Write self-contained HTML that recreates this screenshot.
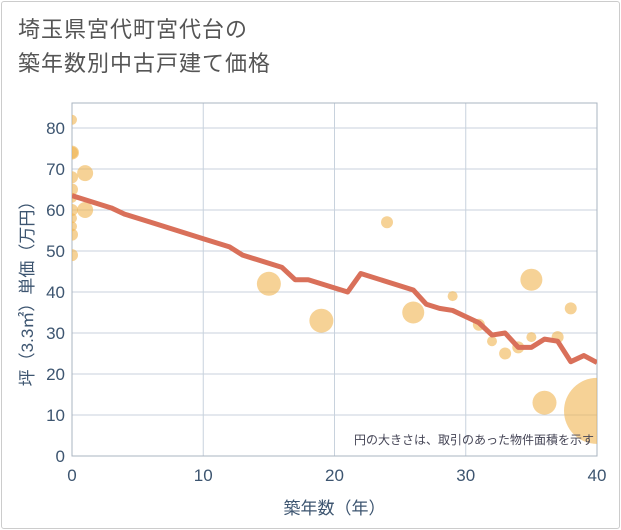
<!DOCTYPE html>
<html><head><meta charset="utf-8"><style>
html,body{margin:0;padding:0;background:#fff}
body{width:621px;height:530px;overflow:hidden;font-family:"Liberation Sans","Noto Sans CJK JP",sans-serif}
#frame{position:absolute;left:1px;top:1px;width:617px;height:526px;border:1px solid #ccc;border-radius:3px}
#title{position:absolute;left:18px;top:13px;font-size:22px;line-height:34px;color:#555;letter-spacing:1px}
</style></head><body>
<div id="frame"></div>
<div id="title">埼玉県宮代町宮代台の<br>築年数別中古戸建て価格</div>
<svg id="chart" width="621" height="530" style="position:absolute;left:0;top:0"></svg>
<script>
const xTicks=[0,10,20,30,40];
const yTicks=[0,10,20,30,40,50,60,70,80];
const lineX=[0,1,2,3,4,6,8,10,12,13,16,17,18,21,22,26,27,28,29,30,31,32,33,34,35,36,37,38,39,40];
const lineY=[63.5,62.5,61.5,60.5,59,57,55,53,51,49,46,43,43,40,44.5,40.5,37,36,35.5,34,32.5,29.5,30,26.5,26.5,28.5,28,23,24.5,22.8];
const bubX=[0,0,0,0,0,0,0,0,0,0,0,1,1,15,19,24,26,29,31,32,33,34,35,35,36,37,38,40];
const bubY=[82,74,74,68,65,63,60,58,56,54,49,69,60,42,33,57,35,39,32,28,25,26.5,29,43,13,29,36,11];
const bubR=[5,7,6,6,6,5,6,5,5,6,6,8,8,12,12,6,11,5,6,5,6,6,5,11,12,6,6,33];
const L=72,R=597,T=103,B=456;
const sx=v=>L+(R-L)*v/40, sy=v=>B-(B-128)*v/80;
const svg=document.getElementById('chart'),NS='http://www.w3.org/2000/svg';
function mk(t,a,p){const e=document.createElementNS(NS,t);for(const k in a)e.setAttribute(k,a[k]);(p||svg).appendChild(e);return e;}
const defs=mk('defs',{});const cp=mk('clipPath',{id:'pc'},defs);mk('rect',{x:L,y:T,width:R-L,height:B-T},cp);
xTicks.forEach(v=>{const l=mk('line',{x1:sx(v),x2:sx(v),y1:T,y2:B,stroke:'#c8d2dd','stroke-width':1});


const t=mk('text',{x:sx(v),y:B+25,'text-anchor':'middle','font-size':17,fill:'#3d5570'});t.textContent=v;

});
yTicks.forEach(v=>{const l=mk('line',{x1:L,x2:R,y1:sy(v),y2:sy(v),stroke:'#c8d2dd','stroke-width':1});


const t=mk('text',{x:L-7,y:sy(v)+6,'text-anchor':'end','font-size':17,fill:'#3d5570'});t.textContent=v;

});
const box=mk('rect',{x:L,y:T,width:R-L,height:B-T,fill:'none',stroke:'#aab4c0','stroke-width':1});


const g=mk('g',{'clip-path':'url(#pc)'});
bubX.forEach((x,i)=>{const c=mk('circle',{cx:sx(x),cy:sy(bubY[i]),r:bubR[i],fill:'rgba(240,180,80,0.6)'},g);

});
const pl=mk('polyline',{points:lineX.map((x,i)=>sx(x)+','+sy(lineY[i])).join(' '),fill:'none',stroke:'#d9705a','stroke-width':5,'stroke-linejoin':'round'},g);


const note=mk('text',{x:R-3,y:B-12,'text-anchor':'end','font-size':12,fill:'#445'});note.textContent='円の大きさは、取引のあった物件面積を示す';


const xt=mk('text',{x:(L+R)/2,y:514,'text-anchor':'middle','font-size':17,fill:'#3d5570'});xt.textContent='築年数（年）';


const yt=mk('text',{x:0,y:0,'text-anchor':'middle','font-size':17,fill:'#3d5570',transform:'translate(33,'+((T+B)/2+10)+') rotate(-90)'});yt.textContent='坪（3.3㎡）単価（万円）';


</script>
</body></html>
